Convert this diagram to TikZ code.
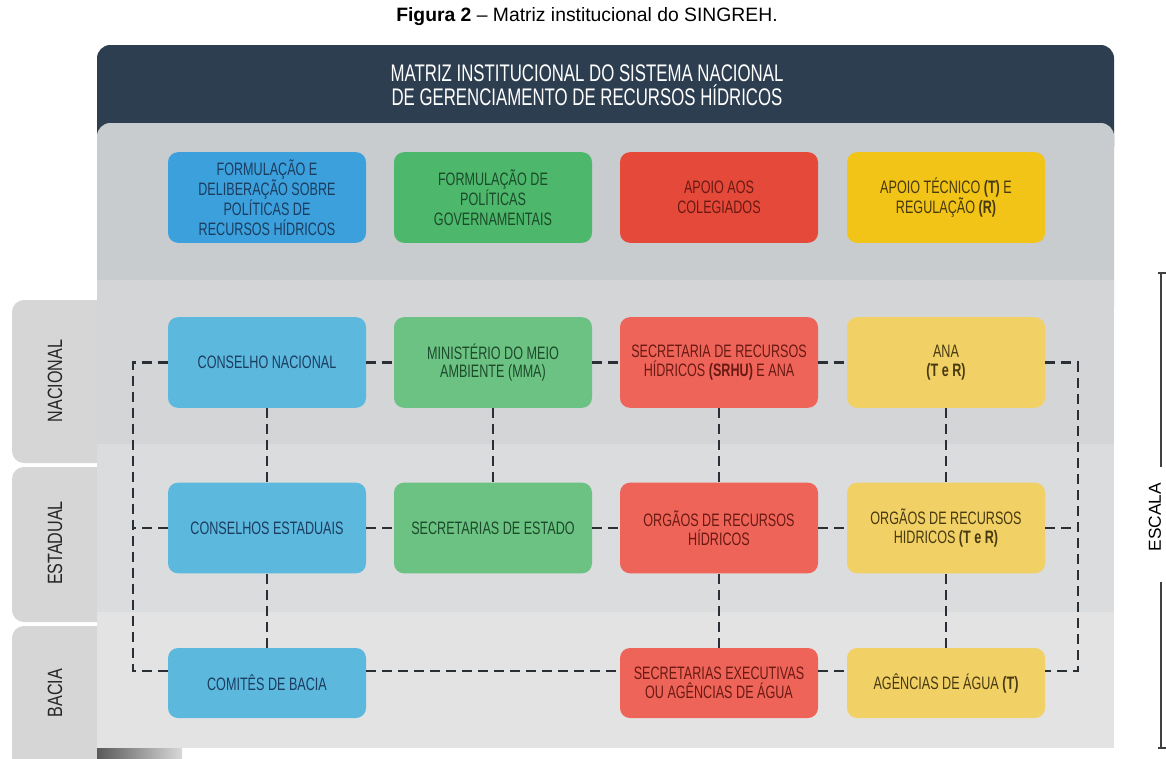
\documentclass[tikz,border=0pt]{standalone}
\usepackage{fontspec}
\setmainfont{Liberation Sans}
\newfontfamily\cond[FakeStretch=0.70]{Liberation Sans}
\newfontfamily\tabfont[FakeStretch=0.78]{Liberation Sans}
\usetikzlibrary{calc}
\definecolor{hdr}{HTML}{2D3E50}
\definecolor{bandtop}{HTML}{C9CCCF}
\definecolor{bandnac}{HTML}{D3D5D7}
\definecolor{bandest}{HTML}{DBDCDD}
\definecolor{bandbac}{HTML}{E3E3E3}
\definecolor{tabc}{HTML}{D6D6D6}
\definecolor{dashc}{HTML}{2A2E35}
\definecolor{tblue}{HTML}{3CA0DC}
\definecolor{tgreen}{HTML}{4DB86B}
\definecolor{tred}{HTML}{E5493A}
\definecolor{tyellow}{HTML}{F2C417}
\definecolor{rblue}{HTML}{5DB8DE}
\definecolor{rgreen}{HTML}{6CC282}
\definecolor{rred}{HTML}{EE6459}
\definecolor{ryellow}{HTML}{F1D165}
\definecolor{xblue}{HTML}{1B3D60}
\definecolor{xgreen}{HTML}{1C4A2B}
\definecolor{xred}{HTML}{6A1A13}
\definecolor{xyellow}{HTML}{473910}
\begin{document}
\begin{tikzpicture}[x=0.75pt,y=-0.75pt,
  fbox/.style={rounded corners=7.5pt, minimum width=148.5pt, minimum height=68pt,
    inner sep=0pt, align=center, font=\cond\fontsize{13.5}{15}\selectfont},
  rbox/.style={fbox, font=\cond\fontsize{13.5}{14}\selectfont},
  lowbox/.style={rbox, minimum height=52.5pt},
  link/.style={draw=dashc, line width=1.9pt, dash pattern=on 7.5pt off 4.5pt},
  tablabel/.style={rotate=90, font=\tabfont\fontsize{15.5}{17}\selectfont, text=black!85}]
\useasboundingbox (0,0) rectangle (1166,758);
\fill[white] (0,0) rectangle (1166,758);

% title
\node[font=\fontsize{14.5}{17}\selectfont] (ttl) at (587,17) {\textbf{Figura 2} -- Matriz institucional do SINGREH.};

% side tabs
\fill[tabc, rounded corners=9pt] (12,300) rectangle (130,463);
\fill[tabc, rounded corners=9pt] (12,467) rectangle (130,622);
\fill[tabc, rounded corners=9pt] (12,626) rectangle (130,790);
\node[tablabel] (tn) at (55,381) {NACIONAL};
\node[tablabel] (te) at (55,543) {ESTADUAL};
\node[tablabel] (tb) at (55,693) {BACIA};

% bottom-left shadow
\shade[left color=black!65, right color=black!15] (97,748) rectangle (182,758);

% header and panel
\fill[hdr, rounded corners=10pt] (97,45) rectangle (1114,160);
\fill[bandtop, rounded corners=10pt] (97,123) rectangle (1114,320);
\fill[bandnac] (97,280) rectangle (1114,444);
\fill[bandest] (97,444) rectangle (1114,612);
\fill[bandbac] (97,612) rectangle (1114,748);
\node[font=\cond\fontsize{18}{18}\selectfont, text=white, align=center] (htxt) at (587,85)
  {MATRIZ INSTITUCIONAL DO SISTEMA NACIONAL\\DE GERENCIAMENTO DE RECURSOS HÍDRICOS};

% scale bracket
\coordinate (s1) at (1161,273);
\coordinate (s2) at (1161,467);
\coordinate (s3) at (1161,582);
\coordinate (s4) at (1161,748);
\node[rotate=90, font=\fontsize{13}{15}\selectfont] (esc) at (1155,517) {ESCALA};
\draw[line width=1pt, black!75] (s1) -- (s2) (s3) -- (s4);
\draw[line width=1pt, black!75] ([xshift=-2pt]s1) -- ([xshift=4pt]s1) ([xshift=-2pt]s4) -- ([xshift=4pt]s4);

% function row
\node[fbox, fill=tblue, text=xblue] (f1) at (267,197.5) {FORMULAÇÃO E\\DELIBERAÇÃO SOBRE\\POLÍTICAS DE\\RECURSOS HÍDRICOS};
\node[fbox, fill=tgreen, text=xgreen] (f2) at (493,197.5) {FORMULAÇÃO DE\\POLÍTICAS\\GOVERNAMENTAIS};
\node[fbox, fill=tred, text=xred] (f3) at (719,197.5) {APOIO AOS\\COLEGIADOS};
\node[fbox, fill=tyellow, text=xyellow] (f4) at (946,197.5) {APOIO TÉCNICO \textbf{(T)} E\\REGULAÇÃO \textbf{(R)}};

% nacional
\node[rbox, fill=rblue, text=xblue] (cn) at (267,362.5) {CONSELHO NACIONAL};
\node[rbox, fill=rgreen, text=xgreen] (mma) at (493,362.5) {MINISTÉRIO DO MEIO\\AMBIENTE (MMA)};
\node[rbox, fill=rred, text=xred] (srhu) at (719,362.5) {SECRETARIA DE RECURSOS\\HÍDRICOS \textbf{(SRHU)} E ANA};
\node[rbox, fill=ryellow, text=xyellow] (ana) at (946,362.5) {ANA\\\textbf{(T e R)}};

% estadual
\node[rbox, fill=rblue, text=xblue] (ce) at (267,528) {CONSELHOS ESTADUAIS};
\node[rbox, fill=rgreen, text=xgreen] (se) at (493,528) {SECRETARIAS DE ESTADO};
\node[rbox, fill=rred, text=xred] (orh) at (719,528) {ORGÃOS DE RECURSOS\\HÍDRICOS};
\node[rbox, fill=ryellow, text=xyellow] (ortr) at (946,528) {ORGÃOS DE RECURSOS\\HIDRICOS \textbf{(T e R)}};

% bacia
\node[lowbox, fill=rblue, text=xblue] (cb) at (267,683) {COMITÊS DE BACIA};
\node[lowbox, fill=rred, text=xred] (sea) at (719,683) {SECRETARIAS EXECUTIVAS\\OU AGÊNCIAS DE ÁGUA};
\node[lowbox, fill=ryellow, text=xyellow] (ag) at (946,683) {AGÊNCIAS DE ÁGUA \textbf{(T)}};

% connectors
\coordinate (lx) at (133,0);
\coordinate (rx) at (1078,0);
\path ([yshift=9pt]cb.west) coordinate (cbw) ([yshift=9pt]cb.east) coordinate (cbe)
      ([yshift=9pt]sea.west) coordinate (seaw) ([yshift=9pt]sea.east) coordinate (seae)
      ([yshift=9pt]ag.west) coordinate (agw) ([yshift=9pt]ag.east) coordinate (age);

\draw[link] (cn.east) -- (mma.west);
\draw[link] (mma.east) -- (srhu.west);
\draw[link] (srhu.east) -- (ana.west);
\draw[link] (ce.east) -- (se.west);
\draw[link] (se.east) -- (orh.west);
\draw[link] (orh.east) -- (ortr.west);
\draw[link] (cbe) -- (seaw);
\draw[link] (seae) -- (agw);

\draw[link] (cn.south) -- (ce.north);
\draw[link] (mma.south) -- (se.north);
\draw[link] (srhu.south) -- (orh.north);
\draw[link] (ana.south) -- (ortr.north);
\draw[link] (ce.south) -- (cb.north);
\draw[link] (orh.south) -- (sea.north);
\draw[link] (ortr.south) -- (ag.north);

\draw[link] (cn.west) -- (cn.west -| lx) -- (cbw -| lx) -- (cbw);
\draw[link] (ce.west) -- (ce.west -| lx);
\draw[link] (ana.east) -- (ana.east -| rx) -- (age -| rx) -- (age);
\draw[link] (ortr.east) -- (ortr.east -| rx);
\end{tikzpicture}
\end{document}
